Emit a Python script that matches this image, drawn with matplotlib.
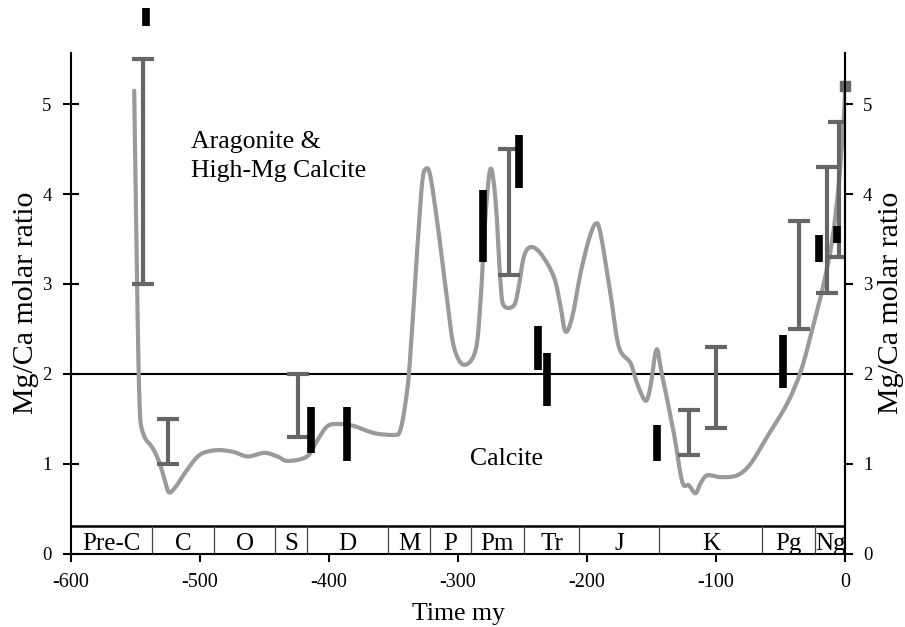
import matplotlib.pyplot as plt
import numpy as np
from matplotlib.path import Path
from matplotlib.patches import PathPatch

plt.rcParams['font.family'] = ['Liberation Serif', 'DejaVu Serif']
plt.rcParams['axes.unicode_minus'] = False

# Mg/Ca curve (time in my, ratio)
curve_t = [-551, -549.5, -547.8, -546.5, -545, -542, -538, -534, -530, -527,
           -524, -519, -510, -500,
           -487, -474, -463, -450, -440, -432, -417, -409, -401, -391, -381,
           -365, -350, -345, -341, -337.5, -331.6, -327.8, -325, -321.3,
           -314.9, -308.4, -303.2, -295.5, -286.4, -282.5, -278.7, -274.8,
           -270.9, -267, -264.5, -256.7, -252.9, -249, -243.8, -236, -225.7,
           -220.5, -216.7, -211.5, -205, -198.6, -193.4, -189.5, -181.8,
           -175.3, -166.3, -161.1, -154.6, -150.8, -146.1, -142, -132.7,
           -126.2, -121.1, -115.9, -112, -106.8, -96.5, -83.6, -73.1, -60.3,
           -44.8, -34, -24.2, -16.4, -9.9, -4.8, -0.9, 0]
curve_mg = [5.15, 3.7, 2.2, 1.55, 1.38, 1.27, 1.2, 1.1, 0.95, 0.8,
            0.68, 0.74, 0.93, 1.10,
            1.15, 1.13, 1.08, 1.12, 1.08, 1.03, 1.08, 1.26, 1.42, 1.44, 1.42,
            1.34, 1.32, 1.36, 1.65, 2.1, 3.38, 4.12, 4.28, 4.19,
            3.56, 2.82, 2.30, 2.10, 2.26, 2.82, 3.75, 4.28,
            3.93, 3.01, 2.76, 2.76, 2.97, 3.30, 3.41, 3.34, 3.08,
            2.75, 2.47, 2.63, 3.12, 3.49, 3.67, 3.56, 2.89,
            2.30, 2.12, 1.89, 1.70, 1.86, 2.27, 2.00, 1.34,
            0.80, 0.76, 0.67, 0.78, 0.87, 0.85, 0.87, 1.00, 1.30,
            1.67, 2.04, 2.56, 3.01, 3.49, 4.12, 4.86, 5.16]

# grey error bars (range)
eb_t = [-544.5, -525, -424, -260.5, -121, -100, -36, -14, -5]
eb_lo = [3.0, 1.0, 1.3, 3.1, 1.1, 1.4, 2.5, 2.9, 3.3]
eb_hi = [5.5, 1.5, 2.0, 4.5, 1.6, 2.3, 3.7, 4.3, 4.8]

# modern seawater point
sq_t = [0]
sq_mg = [5.2]

# black bars (range)
bar_t = [-541.5, -414, -386, -281, -253, -238, -231, -146, -48, -20, -6]
bar_lo = [5.87, 1.12, 1.03, 3.24, 4.07, 2.04, 1.64, 1.03, 1.84, 3.24, 3.45]
bar_hi = [6.07, 1.63, 1.63, 4.04, 4.66, 2.53, 2.23, 1.43, 2.43, 3.54, 3.65]

# geological periods
period_edges = [-600, -537, -489, -442, -417, -354, -322, -290, -249, -206,
                -144, -64, -23, 0]
period_names = ['Pre-C', 'C', 'O', 'S', 'D', 'M', 'P', 'Pm', 'Tr', 'J', 'K',
                'Pg', 'Ng']

fig = plt.figure(figsize=(9.05, 6.27), dpi=100)
ax = fig.add_axes([71 / 905, (627 - 553.5) / 627, (845 - 71) / 905,
                   (553.5 - 53) / 627])

ax.set_xlim(-600, 0)
ax.set_ylim(0, 5.57)

# smooth curve through the points (Catmull-Rom drawn as cubic Beziers)
pts = np.column_stack([curve_t, curve_mg])
ext = np.vstack([pts[0], pts, pts[-1]])
verts = [pts[0]]
codes = [Path.MOVETO]
for i in range(1, len(ext) - 2):
    p0, p1, p2, p3 = ext[i - 1], ext[i], ext[i + 1], ext[i + 2]
    verts += [p1 + (p2 - p0) / 6, p2 - (p3 - p1) / 6, p2]
    codes += [Path.CURVE4] * 3
ax.add_patch(PathPatch(Path(verts, codes), fill=False, edgecolor='#9a9a9a',
                       lw=3, joinstyle='round', capstyle='round', zorder=2))

eb_t = np.array(eb_t)
eb_lo = np.array(eb_lo)
eb_hi = np.array(eb_hi)
mid = (eb_lo + eb_hi) / 2
ax.errorbar(eb_t, mid, yerr=[mid - eb_lo, eb_hi - mid], fmt='none',
            ecolor='#666666', elinewidth=3, capsize=8, capthick=3, zorder=3)
ax.plot(sq_t, sq_mg, 's', color='#666666', ms=7, clip_on=False, zorder=3)

ax.vlines(bar_t, bar_lo, bar_hi, colors='black', lw=5.5, capstyle='butt',
          clip_on=False, zorder=4)

ax.axhline(2, color='black', lw=1.5, zorder=1)

# period strip
box_top = 0.31
ax.axhline(box_top, color='black', lw=1.8, zorder=1)
for e in period_edges[1:-1]:
    ax.plot([e, e], [0, box_top], color='#444444', lw=0.9, zorder=1)
for i, name in enumerate(period_names):
    c = (period_edges[i] + period_edges[i + 1]) / 2
    ax.text(c, 0.035, name, ha='center', va='baseline', fontsize=18)

ax.text(-507, 4.51, 'Aragonite &', fontsize=18.5, va='baseline')
ax.text(-507, 4.19, 'High-Mg Calcite', fontsize=18.5, va='baseline')
ax.text(-291, 0.98, 'Calcite', fontsize=18.5, va='baseline')

for s in ['left', 'bottom', 'right']:
    ax.spines[s].set_linewidth(1.5)
ax.spines['top'].set_visible(False)

ax.set_xticks(np.arange(-600, 1, 100))
ax.set_yticks(np.arange(0, 6, 1))
ax.tick_params(axis='x', direction='out', length=6, width=1.5,
               labelsize=14.5, pad=8)
ax.tick_params(axis='y', direction='inout', length=12, width=1.5,
               labelsize=13.5, pad=8)
ax.set_xlabel('Time my', fontsize=18.5, labelpad=8)
ax.set_ylabel('Mg/Ca molar ratio', fontsize=21.5, labelpad=2)

ax2 = ax.twinx()
ax2.set_ylim(ax.get_ylim())
ax2.set_yticks(np.arange(0, 6, 1))
ax2.tick_params(axis='y', direction='out', length=6, width=1.5,
                labelsize=13.5, pad=7)
for s in ['top', 'left', 'bottom']:
    ax2.spines[s].set_visible(False)
ax2.spines['right'].set_linewidth(1.5)
ax2.set_ylabel('Mg/Ca molar ratio', fontsize=21.5, labelpad=4)

fig.savefig('out.png', dpi=100)
